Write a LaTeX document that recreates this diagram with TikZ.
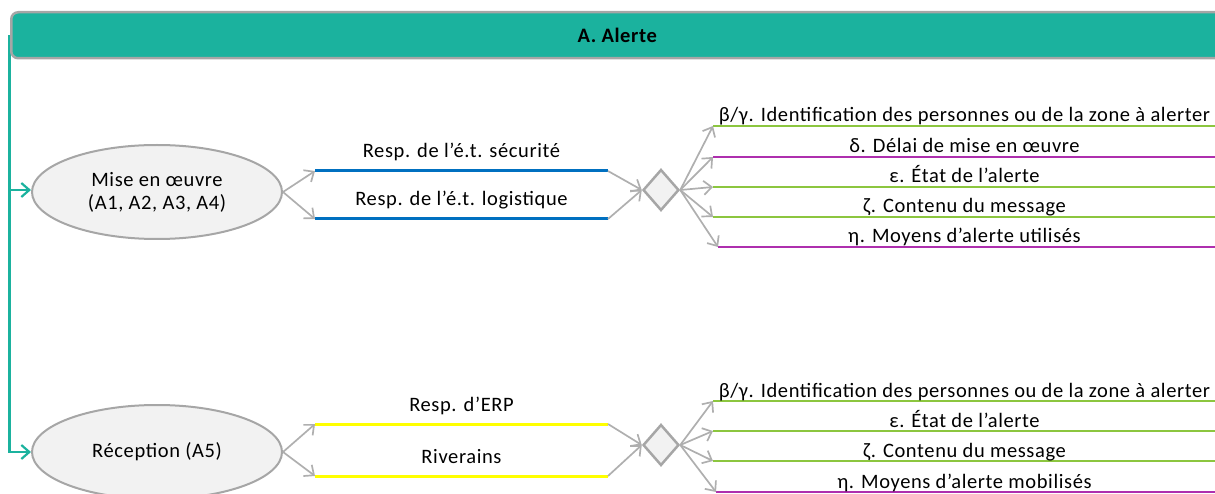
\documentclass[tikz,border=0pt]{standalone}
\usepackage{fontspec}
\setmainfont{Carlito}[LetterSpace=3]
\usetikzlibrary{arrows.meta,shapes.geometric}
\definecolor{tealc}{HTML}{1BB29E}
\definecolor{hgray}{HTML}{A6A6A6}
\definecolor{lgray}{HTML}{F2F2F2}
\definecolor{grnc}{HTML}{8CC63F}
\definecolor{purc}{HTML}{AE2FAE}
\definecolor{bluc}{HTML}{0070C0}
\definecolor{yelc}{HTML}{FFFF00}
\tikzset{
  txt/.style={font=\fontsize{20.5}{23}\selectfont},
  ell/.style={ellipse, draw=hgray, line width=2pt, fill=lgray, minimum width=250pt, minimum height=94pt, inner sep=0pt, align=center, txt},
  dia/.style={diamond, draw=hgray, line width=2.5pt, fill=lgray, minimum width=36pt, minimum height=41pt, inner sep=0pt},
  garr/.style={draw=hgray!90, line width=1.7pt, -{Straight Barb[length=8pt,width=14pt]}},
  tarr/.style={draw=tealc, line width=2.2pt, -{Straight Barb[length=8pt,width=14pt]}},
  lbl/.style={anchor=base, inner sep=0pt, txt},
  itm/.style={anchor=base, inner sep=0pt, txt},
  bline/.style={draw=bluc, line width=3pt},
  yline/.style={draw=yelc, line width=3pt},
  gline/.style={draw=grnc, line width=2.6pt},
  pline/.style={draw=purc, line width=2.6pt},
}
\begin{document}
\begin{tikzpicture}[x=1pt,y=-1pt]
\useasboundingbox (0,0) rectangle (1215,494);
\clip (0,0) rectangle (1215,494);
% ellipses
\node[ell] (e1) at (157,192) {Mise en œuvre\\(A1, A2, A3, A4)};
\node[ell] (e2) at (157,452) {Réception (A5)};
% teal tree
\coordinate (vtop) at (9.5,35);
\coordinate (vmid) at (9.5,190);
\draw[tarr] (vtop) |- (e2.west);
\draw[tarr] (vmid) -- (e1.west |- vmid);
% header
\node[draw=hgray, line width=2.5pt, fill=tealc, rounded corners=7pt, minimum width=1212pt, minimum height=46pt, anchor=north west, inner sep=0pt, font=\fontsize{20.5}{23}\selectfont\bfseries] (hdr) at (10,11) {A. Alerte};

% ---- upper block
\coordinate (b1s) at (315,171); \coordinate (b1e) at (608,171);
\coordinate (b2s) at (315,219); \coordinate (b2e) at (608,219);
\draw[bline] (b1s) -- (b1e);
\draw[bline] (b2s) -- (b2e);
\node[lbl] (b1t) at (461.5,158) {Resp. de l’é.t. sécurité};
\node[lbl] (b2t) at (461.5,206) {Resp. de l’é.t. logistique};
\draw[garr] (e1.east) -- (b1s);
\draw[garr] (e1.east) -- (b2s);
\node[dia] (d1) at (661,190) {};
\draw[garr] (b1e) -- (d1.west);
\draw[garr] (b2e) -- (d1.west);

\coordinate (u1s) at (713,126); \coordinate (u1e) at (1220,126);
\coordinate (u2s) at (713,157); \coordinate (u2e) at (1220,157);
\coordinate (u3s) at (713,187); \coordinate (u3e) at (1220,187);
\coordinate (u4s) at (713,217); \coordinate (u4e) at (1220,217);
\coordinate (u5s) at (718,247); \coordinate (u5e) at (1220,247);
\draw[gline] (u1s) -- (u1e);
\draw[pline] (u2s) -- (u2e);
\draw[gline] (u3s) -- (u3e);
\draw[gline] (u4s) -- (u4e);
\draw[pline] (u5s) -- (u5e);
\node[itm] (u1t) at (964.5,122) {β/γ. Identification des personnes ou de la zone à alerter};
\node[itm] (u2t) at (964.5,153) {δ. Délai de mise en œuvre};
\node[itm] (u3t) at (964.5,183) {ε. État de l’alerte};
\node[itm] (u4t) at (964.5,213) {ζ. Contenu du message};
\node[itm] (u5t) at (964.5,243) {η. Moyens d’alerte utilisés};
\foreach \k in {1,...,5} { \draw[garr] (d1.east) -- (u\k s); }

% ---- lower block
\coordinate (y1s) at (315,424); \coordinate (y1e) at (608,424);
\coordinate (y2s) at (315,476); \coordinate (y2e) at (608,476);
\draw[yline] (y1s) -- (y1e);
\draw[yline] (y2s) -- (y2e);
\node[lbl] (y1t) at (461.5,411) {Resp. d’ERP};
\node[lbl] (y2t) at (461.5,463) {Riverains};
\draw[garr] (e2.east) -- (y1s);
\draw[garr] (e2.east) -- (y2s);
\node[dia] (d2) at (661,445) {};
\draw[garr] (y1e) -- (d2.west);
\draw[garr] (y2e) -- (d2.west);

\coordinate (l1s) at (713,401); \coordinate (l1e) at (1220,401);
\coordinate (l2s) at (713,431); \coordinate (l2e) at (1220,431);
\coordinate (l3s) at (713,461); \coordinate (l3e) at (1220,461);
\coordinate (l4s) at (716,492); \coordinate (l4e) at (1220,492);
\draw[gline] (l1s) -- (l1e);
\draw[gline] (l2s) -- (l2e);
\draw[gline] (l3s) -- (l3e);
\draw[pline] (l4s) -- (l4e);
\node[itm] (l1t) at (964.5,397) {β/γ. Identification des personnes ou de la zone à alerter};
\node[itm] (l2t) at (964.5,427) {ε. État de l’alerte};
\node[itm] (l3t) at (964.5,457) {ζ. Contenu du message};
\node[itm] (l4t) at (964.5,488) {η. Moyens d’alerte mobilisés};
\foreach \k in {1,...,4} { \draw[garr] (d2.east) -- (l\k s); }
\end{tikzpicture}
\end{document}
